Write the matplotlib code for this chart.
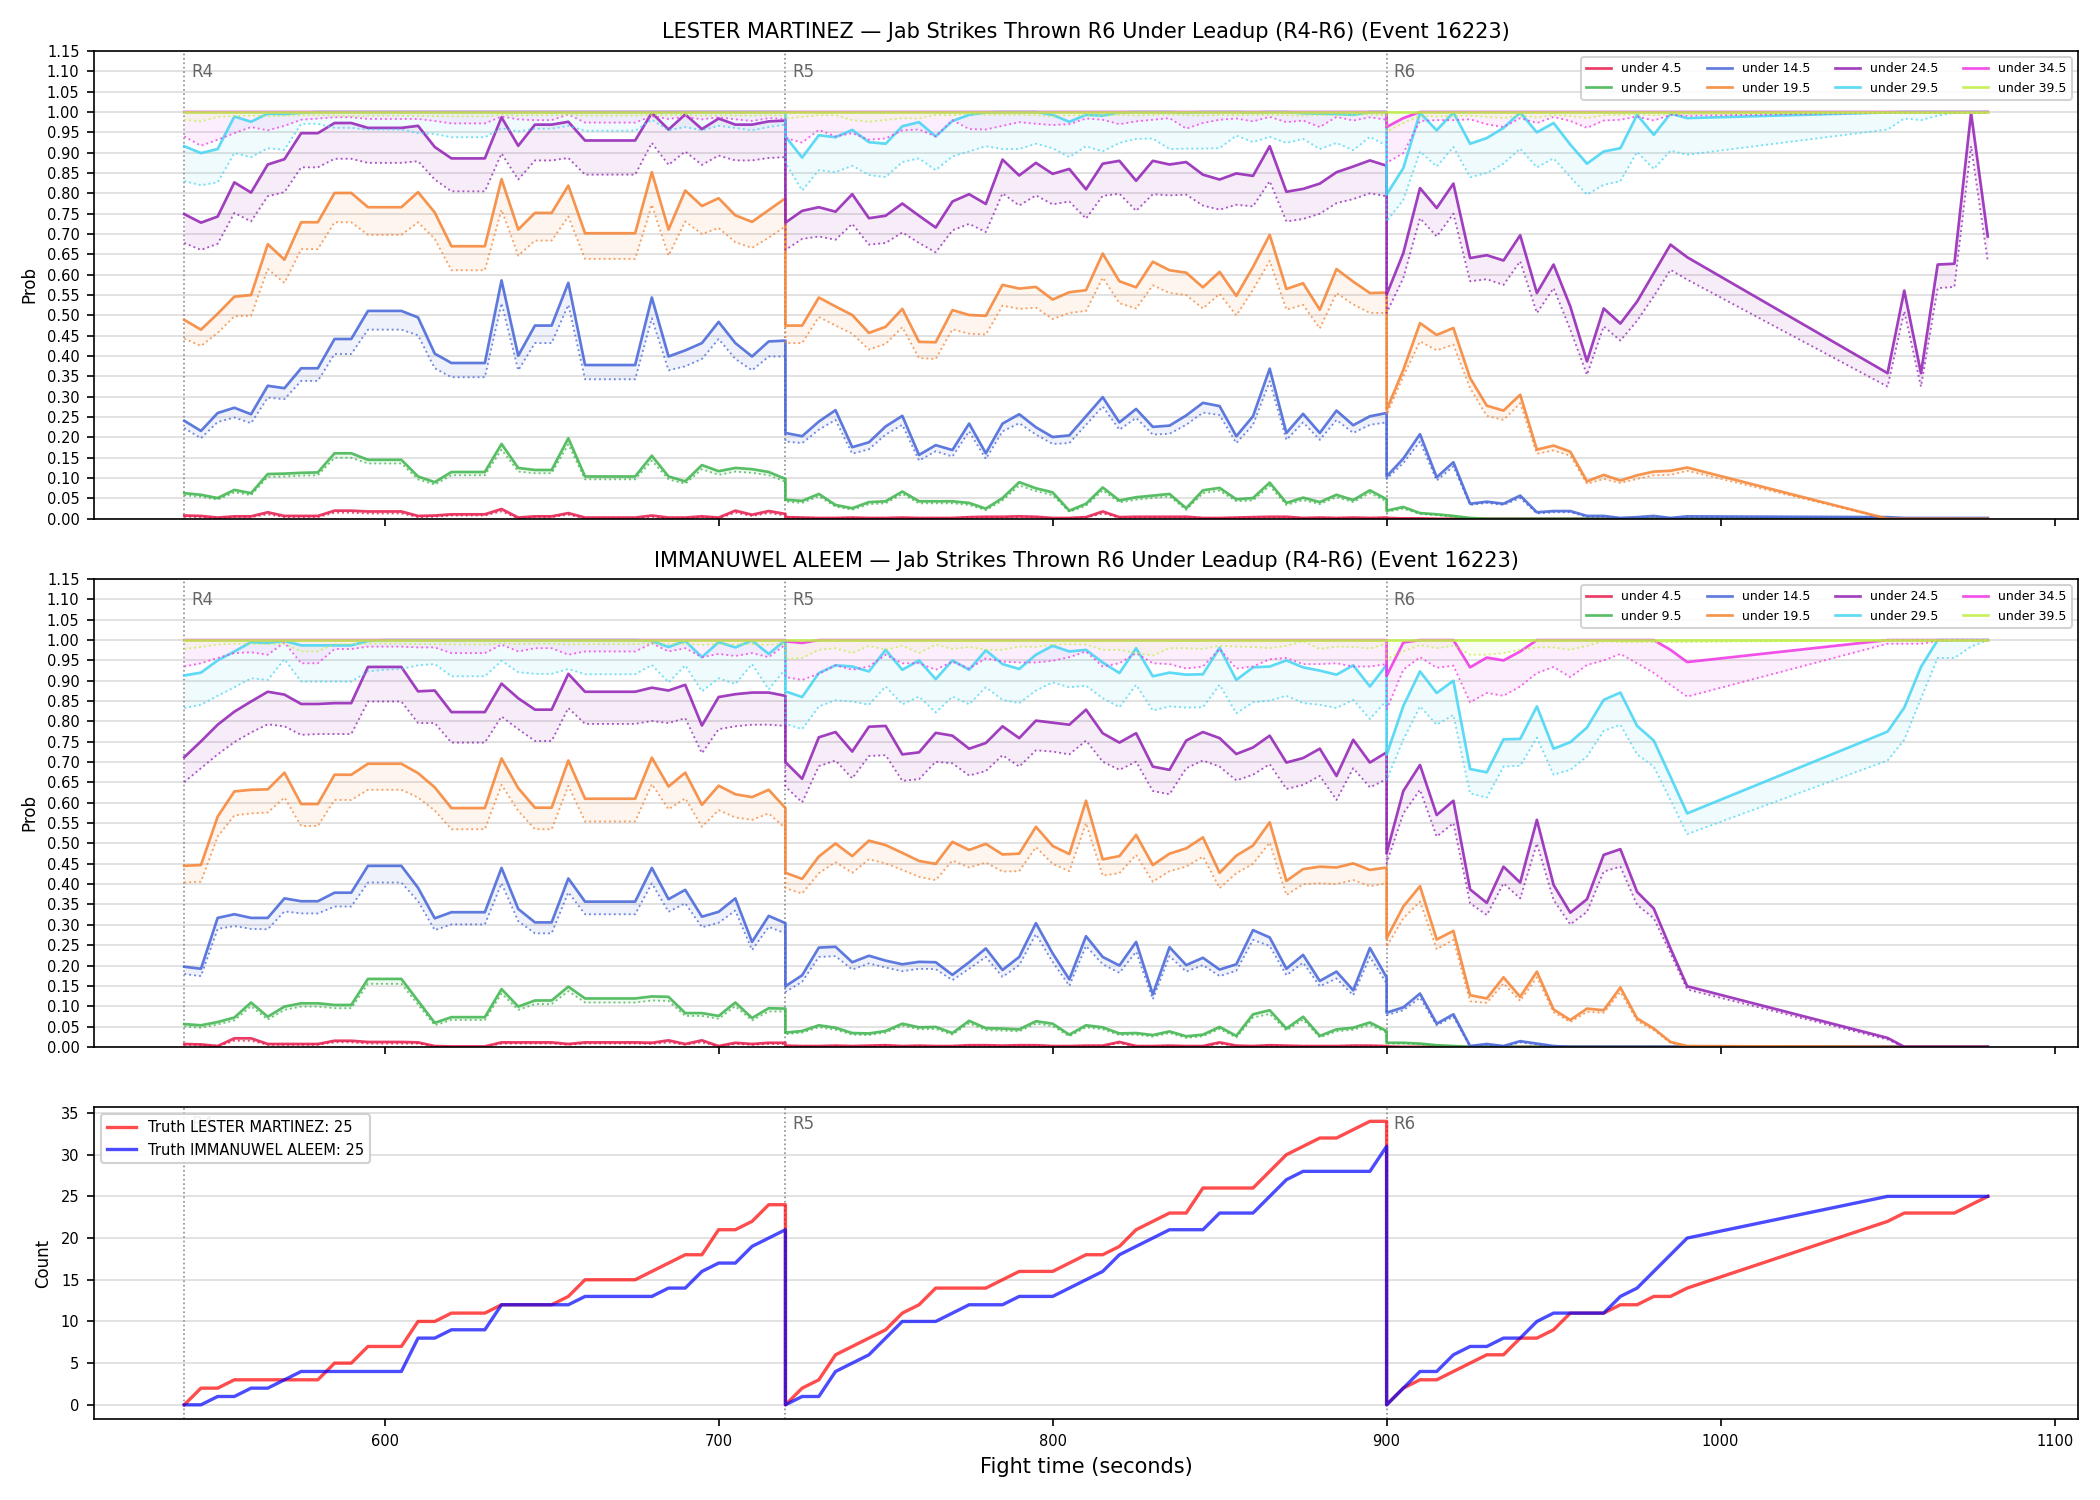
import numpy as np
import matplotlib
matplotlib.use("Agg")
import matplotlib.pyplot as plt
import matplotlib.transforms as mtransforms

# sample times (two samples at 720 and 900 = end of one round / start of next)
times = (list(range(540, 721, 5)) + list(range(720, 901, 5))
         + list(range(900, 991, 5)) + list(range(1050, 1081, 5)))
round_starts = [540, 720, 900]
round_names = ["R4", "R5", "R6"]

lines = ["under 4.5", "under 9.5", "under 14.5", "under 19.5",
         "under 24.5", "under 29.5", "under 34.5", "under 39.5"]
colors = ["#e6194b", "#3cb44b", "#4363d8", "#f58231",
          "#911eb4", "#42d4f4", "#f032e6", "#bfef45"]

# ---------------- LESTER MARTINEZ ----------------
lm_u4 = ([0.008, 0.007, 0.003, 0.006, 0.006, 0.016, 0.007, 0.007, 0.007, 0.020, 0.020, 0.018, 0.018, 0.018, 0.007, 0.008, 0.011, 0.011, 0.011, 0.024,
          0.003, 0.006, 0.006, 0.014, 0.003, 0.003, 0.003, 0.003, 0.008, 0.003, 0.003, 0.006, 0.003, 0.020, 0.010, 0.019, 0.012]
         + [0.004, 0.003, 0.002, 0.002, 0.003, 0.002, 0.002, 0.003, 0.002, 0.002, 0.002, 0.004, 0.005, 0.005, 0.006, 0.005, 0.002, 0.002, 0.004, 0.018,
            0.004, 0.005, 0.005, 0.005, 0.005, 0.002, 0.002, 0.003, 0.004, 0.005, 0.005, 0.002, 0.003, 0.002, 0.003, 0.002, 0.003]
         + [0.002, 0.001, 0.001] + [0.0] * 23)
lm_u4_lo = ([0.005, 0.004, 0.001, 0.004, 0.004, 0.011, 0.004, 0.004, 0.004, 0.015, 0.015, 0.013, 0.013, 0.013, 0.004, 0.005, 0.008, 0.008, 0.008, 0.018,
             0.001, 0.004, 0.004, 0.010, 0.001, 0.001, 0.001, 0.001, 0.005, 0.001, 0.001, 0.004, 0.001, 0.015, 0.007, 0.014, 0.008]
            + [0.003, 0.002, 0.001, 0.001, 0.002, 0.001, 0.001, 0.002, 0.001, 0.001, 0.001, 0.003, 0.003, 0.003, 0.004, 0.003, 0.001, 0.001, 0.003, 0.013,
               0.003, 0.003, 0.003, 0.003, 0.003, 0.001, 0.001, 0.002, 0.003, 0.003, 0.003, 0.001, 0.002, 0.001, 0.002, 0.001, 0.002]
            + [0.001] + [0.0] * 25)
lm_u9 = ([0.063, 0.059, 0.051, 0.071, 0.063, 0.110, 0.111, 0.113, 0.114, 0.161, 0.161, 0.145, 0.145, 0.145, 0.104, 0.090, 0.115, 0.115, 0.115, 0.184,
          0.125, 0.120, 0.120, 0.198, 0.104, 0.104, 0.104, 0.104, 0.155, 0.104, 0.092, 0.132, 0.117, 0.125, 0.122, 0.115, 0.098]
         + [0.047, 0.044, 0.061, 0.034, 0.026, 0.041, 0.043, 0.067, 0.043, 0.043, 0.043, 0.039, 0.025, 0.051, 0.090, 0.075, 0.065, 0.020, 0.037, 0.077,
            0.045, 0.053, 0.057, 0.061, 0.026, 0.070, 0.076, 0.048, 0.051, 0.089, 0.039, 0.052, 0.041, 0.059, 0.046, 0.070, 0.048]
         + [0.020, 0.029, 0.014, 0.011, 0.007, 0.002] + [0.0] * 20)
lm_u9_lo = ([0.058, 0.054, 0.047, 0.065, 0.058, 0.103, 0.104, 0.106, 0.107, 0.150, 0.150, 0.136, 0.136, 0.136, 0.097, 0.084, 0.107, 0.107, 0.107, 0.170,
             0.116, 0.112, 0.112, 0.183, 0.097, 0.097, 0.097, 0.097, 0.143, 0.097, 0.086, 0.122, 0.108, 0.116, 0.113, 0.107, 0.091]
            + [0.042, 0.039, 0.055, 0.030, 0.022, 0.036, 0.038, 0.061, 0.038, 0.038, 0.038, 0.034, 0.021, 0.045, 0.082, 0.068, 0.058, 0.017, 0.032, 0.070,
               0.040, 0.047, 0.051, 0.055, 0.022, 0.063, 0.069, 0.043, 0.045, 0.081, 0.034, 0.046, 0.036, 0.053, 0.041, 0.063, 0.043]
            + [0.017, 0.025, 0.012, 0.009, 0.005, 0.001] + [0.0] * 20)
lm_u14 = ([0.241, 0.216, 0.260, 0.273, 0.257, 0.327, 0.321, 0.370, 0.370, 0.442, 0.442, 0.511, 0.511, 0.511, 0.495, 0.406, 0.383, 0.383, 0.383, 0.586,
           0.401, 0.475, 0.475, 0.580, 0.378, 0.378, 0.378, 0.378, 0.544, 0.399, 0.414, 0.432, 0.484, 0.432, 0.399, 0.436, 0.438]
          + [0.211, 0.203, 0.239, 0.267, 0.176, 0.188, 0.227, 0.253, 0.157, 0.181, 0.169, 0.234, 0.161, 0.234, 0.257, 0.225, 0.201, 0.205, 0.252, 0.299,
             0.237, 0.270, 0.226, 0.229, 0.254, 0.285, 0.277, 0.203, 0.252, 0.369, 0.211, 0.258, 0.211, 0.266, 0.230, 0.252, 0.260]
          + [0.104, 0.148, 0.208, 0.102, 0.139, 0.037, 0.042, 0.037, 0.057, 0.016, 0.019, 0.019, 0.007, 0.007, 0.002, 0.004, 0.007, 0.002, 0.006,
             0.004, 0.002, 0.002, 0.002, 0.002, 0.002, 0.002])
lm_u14_lo = ([0.223, 0.198, 0.238, 0.249, 0.235, 0.298, 0.294, 0.339, 0.339, 0.405, 0.405, 0.465, 0.465, 0.465, 0.451, 0.370, 0.348, 0.348, 0.348, 0.530,
              0.365, 0.432, 0.432, 0.526, 0.343, 0.343, 0.343, 0.343, 0.493, 0.365, 0.375, 0.393, 0.442, 0.393, 0.365, 0.399, 0.399]
             + [0.190, 0.186, 0.219, 0.243, 0.160, 0.171, 0.207, 0.231, 0.143, 0.166, 0.153, 0.215, 0.147, 0.215, 0.235, 0.207, 0.184, 0.186, 0.231, 0.276,
                0.219, 0.248, 0.207, 0.209, 0.231, 0.261, 0.255, 0.186, 0.231, 0.338, 0.194, 0.237, 0.194, 0.243, 0.211, 0.231, 0.237]
             + [0.098, 0.137, 0.190, 0.094, 0.129, 0.034, 0.039, 0.034, 0.051, 0.013, 0.016, 0.016, 0.005, 0.005, 0.001, 0.003, 0.005, 0.001, 0.004,
                0.003, 0.001, 0.001, 0.001, 0.001, 0.001, 0.001])
lm_u19 = ([0.489, 0.465, 0.504, 0.546, 0.550, 0.675, 0.637, 0.729, 0.729, 0.801, 0.801, 0.766, 0.766, 0.766, 0.803, 0.753, 0.670, 0.670, 0.670, 0.835,
           0.711, 0.752, 0.752, 0.819, 0.702, 0.702, 0.702, 0.702, 0.852, 0.711, 0.807, 0.769, 0.788, 0.746, 0.730, 0.759, 0.788]
          + [0.475, 0.475, 0.544, 0.522, 0.501, 0.457, 0.472, 0.516, 0.435, 0.434, 0.513, 0.501, 0.499, 0.575, 0.566, 0.570, 0.539, 0.557, 0.562, 0.652,
             0.584, 0.569, 0.632, 0.611, 0.605, 0.569, 0.607, 0.548, 0.619, 0.698, 0.565, 0.579, 0.514, 0.614, 0.583, 0.555, 0.556]
          + [0.268, 0.366, 0.481, 0.452, 0.469, 0.346, 0.278, 0.266, 0.305, 0.170, 0.180, 0.165, 0.092, 0.108, 0.094, 0.107, 0.116, 0.118, 0.126]
          + [0.0] * 7)
lm_u19_lo = ([0.443, 0.425, 0.457, 0.498, 0.499, 0.614, 0.580, 0.663, 0.663, 0.729, 0.729, 0.698, 0.698, 0.698, 0.729, 0.688, 0.611, 0.611, 0.611, 0.760,
              0.647, 0.684, 0.684, 0.743, 0.639, 0.639, 0.639, 0.639, 0.772, 0.647, 0.731, 0.700, 0.715, 0.680, 0.666, 0.691, 0.719]
             + [0.432, 0.432, 0.496, 0.475, 0.455, 0.416, 0.430, 0.471, 0.395, 0.393, 0.466, 0.455, 0.453, 0.524, 0.516, 0.519, 0.491, 0.506, 0.511, 0.593,
                0.530, 0.517, 0.574, 0.555, 0.550, 0.517, 0.553, 0.500, 0.563, 0.634, 0.514, 0.526, 0.468, 0.555, 0.527, 0.506, 0.506]
             + [0.256, 0.350, 0.436, 0.414, 0.428, 0.321, 0.253, 0.243, 0.284, 0.160, 0.168, 0.155, 0.086, 0.098, 0.088, 0.098, 0.107, 0.108, 0.118]
             + [0.0] * 7)
lm_u24 = ([0.749, 0.728, 0.743, 0.827, 0.802, 0.871, 0.884, 0.948, 0.948, 0.973, 0.973, 0.961, 0.961, 0.961, 0.966, 0.914, 0.886, 0.886, 0.886, 0.987,
           0.917, 0.969, 0.969, 0.976, 0.930, 0.930, 0.930, 0.930, 0.998, 0.957, 0.994, 0.958, 0.984, 0.969, 0.969, 0.977, 0.979]
          + [0.728, 0.757, 0.766, 0.755, 0.798, 0.739, 0.745, 0.775, 0.745, 0.716, 0.780, 0.798, 0.774, 0.883, 0.844, 0.875, 0.848, 0.860, 0.810, 0.873,
             0.880, 0.831, 0.880, 0.871, 0.877, 0.846, 0.834, 0.849, 0.843, 0.916, 0.804, 0.811, 0.824, 0.852, 0.866, 0.881, 0.868]
          + [0.551, 0.653, 0.813, 0.764, 0.824, 0.641, 0.648, 0.635, 0.697, 0.555, 0.625, 0.522, 0.387, 0.517, 0.480, 0.534, 0.604, 0.674, 0.643,
             0.358, 0.561, 0.358, 0.625, 0.627, 0.998, 0.694])
lm_u24_lo = ([0.678, 0.661, 0.676, 0.752, 0.731, 0.793, 0.803, 0.864, 0.864, 0.885, 0.885, 0.875, 0.875, 0.875, 0.879, 0.834, 0.805, 0.805, 0.805, 0.898,
              0.834, 0.881, 0.881, 0.887, 0.846, 0.846, 0.846, 0.846, 0.924, 0.870, 0.903, 0.870, 0.893, 0.881, 0.881, 0.887, 0.889]
             + [0.661, 0.688, 0.694, 0.686, 0.725, 0.674, 0.678, 0.704, 0.678, 0.655, 0.709, 0.725, 0.705, 0.800, 0.770, 0.795, 0.773, 0.780, 0.738, 0.794,
                0.799, 0.757, 0.798, 0.795, 0.797, 0.770, 0.760, 0.772, 0.768, 0.830, 0.731, 0.737, 0.750, 0.776, 0.786, 0.800, 0.793]
             + [0.506, 0.592, 0.739, 0.694, 0.750, 0.584, 0.589, 0.575, 0.633, 0.506, 0.567, 0.465, 0.354, 0.473, 0.438, 0.487, 0.547, 0.612, 0.588,
                0.325, 0.510, 0.325, 0.567, 0.570, 0.916, 0.633])
lm_u29 = ([0.916, 0.899, 0.909, 0.989, 0.976, 0.996, 0.995, 0.998] + [1.0] * 29
          + [0.940, 0.888, 0.943, 0.938, 0.956, 0.926, 0.922, 0.965, 0.975, 0.940, 0.978, 0.993, 0.999, 1.0, 1.0, 1.0, 0.993, 0.976, 0.993, 0.991,
             0.999, 1.0, 1.0, 1.0, 0.998, 1.0, 1.0, 1.0, 0.999, 1.0, 1.0, 0.997, 0.996, 0.995, 0.993, 1.0, 1.0]
          + [0.797, 0.862, 0.998, 0.955, 0.999, 0.922, 0.936, 0.961, 0.999, 0.950, 0.973, 0.920, 0.873, 0.903, 0.911, 0.993, 0.944, 0.996, 0.985,
             0.999, 1.0, 1.0, 1.0, 1.0, 1.0, 1.0])
lm_u29_lo = ([0.830, 0.820, 0.827, 0.899, 0.889, 0.911, 0.907, 0.971, 0.971, 0.961, 0.961, 0.957, 0.957, 0.957, 0.948, 0.946, 0.938, 0.938, 0.938, 0.960,
              0.952, 0.959, 0.959, 0.966, 0.954, 0.954, 0.954, 0.954, 0.981, 0.955, 0.963, 0.955, 0.966, 0.961, 0.955, 0.963, 0.969]
             + [0.875, 0.807, 0.857, 0.852, 0.868, 0.845, 0.840, 0.877, 0.886, 0.857, 0.891, 0.903, 0.916, 0.909, 0.909, 0.922, 0.911, 0.889, 0.916, 0.903,
                0.924, 0.934, 0.935, 0.909, 0.910, 0.910, 0.911, 0.942, 0.926, 0.939, 0.924, 0.934, 0.909, 0.924, 0.906, 0.939, 0.917]
             + [0.731, 0.784, 0.903, 0.866, 0.914, 0.840, 0.850, 0.873, 0.910, 0.864, 0.886, 0.840, 0.797, 0.821, 0.830, 0.902, 0.860, 0.905, 0.895,
                0.957, 0.984, 0.980, 0.991, 0.998, 1.0, 1.0])
lm_u34 = [1.0] * 74 + [0.963, 0.985] + [1.0] * 24
lm_u34_lo = ([0.940, 0.917, 0.932, 0.948, 0.963, 0.955, 0.966, 0.981, 0.984, 0.987, 0.987, 0.983, 0.983, 0.983, 0.983, 0.978, 0.972, 0.972, 0.972, 0.989,
              0.982, 0.980, 0.980, 0.994, 0.974, 0.974, 0.974, 0.974, 0.990, 0.983, 0.988, 0.982, 0.987, 0.982, 0.978, 0.985, 0.983]
             + [0.936, 0.925, 0.956, 0.940, 0.948, 0.932, 0.935, 0.955, 0.957, 0.940, 0.980, 0.958, 0.957, 0.966, 0.975, 0.971, 0.968, 0.970, 0.984, 0.981,
                0.970, 0.977, 0.981, 0.985, 0.959, 0.973, 0.981, 0.984, 0.977, 0.988, 0.975, 0.979, 0.963, 0.988, 0.979, 0.987, 0.981]
             + [0.875, 0.899, 0.978, 0.980, 0.980, 0.982, 0.970, 0.963, 0.985, 0.973, 0.988, 0.978, 0.961, 0.979, 0.981, 0.989, 0.979, 0.993, 0.991,
                0.998, 0.998, 0.998, 0.998, 0.998, 0.998, 0.998])
lm_u39 = [1.0] * 100
lm_u39_lo = ([0.981, 0.977, 0.988, 0.990, 0.991, 0.990, 0.991, 0.992, 0.992, 0.991, 0.990, 0.991, 0.991, 0.991, 0.990, 0.990, 0.989, 0.989, 0.989, 0.993,
              0.991, 0.992, 0.992, 0.993, 0.991, 0.991, 0.991, 0.991, 0.993, 0.992, 0.993, 0.991, 0.992, 0.991, 0.991, 0.992, 0.991]
             + [0.984, 0.988, 0.992, 0.992, 0.980, 0.976, 0.980, 0.985, 0.984, 0.993, 0.992, 0.996, 0.993, 0.993, 0.993, 0.992, 0.989, 0.992, 0.992, 0.991,
                0.993, 0.991, 0.993, 0.994, 0.992, 0.991, 0.993, 0.992, 0.993, 0.993, 0.992, 0.991, 0.993, 0.992, 0.993, 0.994, 0.992]
             + [0.952, 0.973, 0.990, 0.989, 0.990, 0.991, 0.988, 0.985, 0.992, 0.986, 0.993, 0.990, 0.985, 0.992, 0.993, 0.994, 0.992, 0.995, 0.995,
                0.998, 0.998, 0.998, 0.998, 0.998, 0.998, 0.998])

# ---------------- IMMANUWEL ALEEM ----------------
ia_u4 = ([0.007, 0.006, 0.002, 0.021, 0.021, 0.007, 0.007, 0.007, 0.007, 0.015, 0.015, 0.012, 0.012, 0.012, 0.011, 0.002, 0.001, 0.001, 0.001, 0.011,
          0.011, 0.011, 0.011, 0.007, 0.011, 0.011, 0.011, 0.011, 0.010, 0.016, 0.007, 0.016, 0.002, 0.010, 0.007, 0.010, 0.010]
         + [0.003, 0.002, 0.002, 0.003, 0.002, 0.003, 0.004, 0.002, 0.003, 0.002, 0.002, 0.004, 0.004, 0.003, 0.004, 0.004, 0.002, 0.002, 0.003, 0.003,
            0.012, 0.002, 0.002, 0.003, 0.002, 0.002, 0.011, 0.003, 0.002, 0.004, 0.003, 0.002, 0.002, 0.002, 0.003, 0.003, 0.002]
         + [0.001] + [0.0] * 25)
ia_u4_lo = ([0.005, 0.004, 0.001, 0.015, 0.015, 0.005, 0.005, 0.005, 0.005, 0.011, 0.011, 0.008, 0.008, 0.008, 0.008, 0.001, 0.0, 0.0, 0.0, 0.008,
             0.008, 0.008, 0.008, 0.005, 0.008, 0.008, 0.008, 0.008, 0.007, 0.011, 0.005, 0.011, 0.001, 0.007, 0.005, 0.007, 0.007]
            + [0.002, 0.001, 0.001, 0.002, 0.001, 0.002, 0.003, 0.001, 0.002, 0.001, 0.001, 0.003, 0.003, 0.002, 0.003, 0.003, 0.001, 0.001, 0.002, 0.002,
               0.009, 0.001, 0.001, 0.002, 0.001, 0.001, 0.008, 0.002, 0.001, 0.003, 0.002, 0.001, 0.001, 0.001, 0.002, 0.002, 0.001]
            + [0.0] * 26)
ia_u9 = ([0.056, 0.053, 0.061, 0.072, 0.109, 0.074, 0.099, 0.107, 0.107, 0.103, 0.103, 0.167, 0.167, 0.167, 0.113, 0.059, 0.073, 0.073, 0.073, 0.142,
          0.099, 0.114, 0.114, 0.148, 0.119, 0.119, 0.119, 0.119, 0.124, 0.123, 0.083, 0.083, 0.076, 0.109, 0.071, 0.095, 0.094]
         + [0.035, 0.039, 0.053, 0.047, 0.034, 0.033, 0.039, 0.057, 0.048, 0.049, 0.034, 0.064, 0.046, 0.045, 0.043, 0.063, 0.057, 0.030, 0.053, 0.048,
            0.033, 0.034, 0.029, 0.038, 0.026, 0.030, 0.049, 0.027, 0.080, 0.090, 0.045, 0.074, 0.027, 0.043, 0.047, 0.060, 0.039]
         + [0.010, 0.010, 0.008, 0.004, 0.002] + [0.0] * 21)
ia_u9_lo = ([0.050, 0.047, 0.055, 0.065, 0.100, 0.067, 0.091, 0.099, 0.099, 0.095, 0.095, 0.155, 0.155, 0.155, 0.104, 0.053, 0.066, 0.066, 0.066, 0.131,
             0.091, 0.105, 0.105, 0.137, 0.109, 0.109, 0.109, 0.109, 0.114, 0.113, 0.076, 0.076, 0.069, 0.100, 0.065, 0.087, 0.087]
            + [0.031, 0.035, 0.048, 0.042, 0.030, 0.029, 0.035, 0.052, 0.043, 0.044, 0.030, 0.058, 0.041, 0.040, 0.038, 0.057, 0.051, 0.026, 0.048, 0.043,
               0.029, 0.030, 0.025, 0.034, 0.022, 0.026, 0.044, 0.023, 0.072, 0.081, 0.040, 0.067, 0.023, 0.038, 0.042, 0.054, 0.035]
            + [0.008, 0.008, 0.006, 0.003, 0.001] + [0.0] * 21)
ia_u14 = ([0.197, 0.192, 0.317, 0.326, 0.317, 0.317, 0.365, 0.358, 0.358, 0.379, 0.379, 0.445, 0.445, 0.445, 0.391, 0.316, 0.331, 0.331, 0.331, 0.440,
           0.339, 0.306, 0.306, 0.414, 0.357, 0.357, 0.357, 0.357, 0.440, 0.363, 0.386, 0.320, 0.332, 0.365, 0.258, 0.322, 0.304]
          + [0.149, 0.176, 0.244, 0.246, 0.208, 0.224, 0.212, 0.203, 0.209, 0.208, 0.177, 0.208, 0.242, 0.189, 0.221, 0.304, 0.230, 0.166, 0.272, 0.221,
             0.200, 0.258, 0.129, 0.245, 0.201, 0.219, 0.190, 0.203, 0.287, 0.269, 0.192, 0.226, 0.162, 0.185, 0.139, 0.243, 0.171]
          + [0.084, 0.097, 0.131, 0.057, 0.080, 0.002, 0.007, 0.002, 0.014, 0.008, 0.002] + [0.0] * 15)
ia_u14_lo = ([0.179, 0.174, 0.290, 0.297, 0.290, 0.289, 0.333, 0.328, 0.328, 0.345, 0.345, 0.404, 0.404, 0.404, 0.358, 0.287, 0.301, 0.301, 0.301, 0.402,
              0.309, 0.279, 0.279, 0.380, 0.326, 0.326, 0.326, 0.326, 0.402, 0.332, 0.353, 0.294, 0.305, 0.335, 0.238, 0.295, 0.279]
             + [0.135, 0.160, 0.221, 0.223, 0.190, 0.205, 0.195, 0.186, 0.192, 0.191, 0.164, 0.192, 0.221, 0.172, 0.201, 0.277, 0.209, 0.150, 0.248, 0.203,
                0.182, 0.234, 0.117, 0.223, 0.185, 0.201, 0.174, 0.187, 0.263, 0.248, 0.176, 0.207, 0.149, 0.168, 0.127, 0.221, 0.156]
             + [0.078, 0.090, 0.121, 0.053, 0.074, 0.001, 0.005, 0.001, 0.011, 0.006, 0.001] + [0.0] * 15)
ia_u19 = ([0.445, 0.447, 0.566, 0.628, 0.632, 0.633, 0.674, 0.597, 0.597, 0.669, 0.669, 0.696, 0.696, 0.696, 0.673, 0.638, 0.587, 0.587, 0.587, 0.709,
           0.636, 0.588, 0.588, 0.704, 0.610, 0.610, 0.610, 0.610, 0.711, 0.640, 0.674, 0.595, 0.642, 0.621, 0.614, 0.632, 0.587]
          + [0.428, 0.413, 0.468, 0.500, 0.469, 0.507, 0.496, 0.477, 0.457, 0.450, 0.504, 0.484, 0.499, 0.473, 0.475, 0.541, 0.494, 0.474, 0.605, 0.461,
             0.469, 0.521, 0.447, 0.475, 0.488, 0.515, 0.428, 0.470, 0.495, 0.552, 0.408, 0.437, 0.443, 0.441, 0.451, 0.435, 0.441]
          + [0.267, 0.345, 0.395, 0.264, 0.285, 0.127, 0.119, 0.171, 0.123, 0.185, 0.092, 0.066, 0.094, 0.090, 0.146, 0.070, 0.045, 0.012, 0.002]
          + [0.0] * 7)
ia_u19_lo = ([0.404, 0.406, 0.517, 0.569, 0.574, 0.576, 0.613, 0.543, 0.543, 0.607, 0.607, 0.632, 0.632, 0.632, 0.613, 0.581, 0.535, 0.535, 0.535, 0.644,
              0.580, 0.535, 0.535, 0.642, 0.554, 0.554, 0.554, 0.554, 0.646, 0.584, 0.611, 0.541, 0.582, 0.564, 0.558, 0.574, 0.537]
             + [0.390, 0.377, 0.427, 0.454, 0.428, 0.461, 0.451, 0.435, 0.418, 0.410, 0.458, 0.441, 0.453, 0.431, 0.432, 0.491, 0.450, 0.432, 0.550, 0.421,
                0.427, 0.472, 0.406, 0.432, 0.443, 0.468, 0.390, 0.427, 0.450, 0.502, 0.373, 0.400, 0.402, 0.400, 0.410, 0.395, 0.402]
             + [0.246, 0.316, 0.357, 0.240, 0.263, 0.112, 0.108, 0.156, 0.113, 0.171, 0.085, 0.061, 0.086, 0.084, 0.135, 0.064, 0.041, 0.010, 0.001]
             + [0.0] * 7)
ia_u24 = ([0.712, 0.751, 0.792, 0.824, 0.849, 0.873, 0.866, 0.843, 0.843, 0.845, 0.845, 0.934, 0.934, 0.934, 0.874, 0.876, 0.823, 0.823, 0.823, 0.893,
           0.857, 0.829, 0.829, 0.917, 0.873, 0.873, 0.873, 0.873, 0.883, 0.876, 0.890, 0.790, 0.860, 0.867, 0.871, 0.871, 0.863]
          + [0.700, 0.659, 0.761, 0.774, 0.726, 0.787, 0.789, 0.719, 0.724, 0.772, 0.765, 0.733, 0.747, 0.788, 0.759, 0.802, 0.797, 0.792, 0.829, 0.771,
             0.748, 0.771, 0.689, 0.681, 0.753, 0.774, 0.759, 0.720, 0.736, 0.765, 0.699, 0.710, 0.733, 0.666, 0.755, 0.699, 0.724]
          + [0.476, 0.629, 0.693, 0.570, 0.605, 0.387, 0.354, 0.443, 0.404, 0.558, 0.398, 0.330, 0.363, 0.472, 0.486, 0.381, 0.340, 0.242, 0.149,
             0.022] + [0.0] * 6)
ia_u24_lo = ([0.651, 0.685, 0.719, 0.749, 0.773, 0.793, 0.788, 0.767, 0.769, 0.769, 0.769, 0.849, 0.849, 0.849, 0.796, 0.796, 0.748, 0.748, 0.748, 0.812,
              0.781, 0.752, 0.752, 0.833, 0.794, 0.794, 0.794, 0.794, 0.801, 0.796, 0.808, 0.722, 0.781, 0.788, 0.792, 0.792, 0.789]
             + [0.640, 0.601, 0.690, 0.704, 0.660, 0.715, 0.717, 0.654, 0.658, 0.701, 0.697, 0.667, 0.678, 0.717, 0.689, 0.729, 0.726, 0.719, 0.753, 0.701,
                0.681, 0.701, 0.629, 0.621, 0.685, 0.704, 0.689, 0.655, 0.669, 0.695, 0.634, 0.644, 0.666, 0.607, 0.685, 0.638, 0.658]
             + [0.451, 0.574, 0.632, 0.517, 0.550, 0.353, 0.324, 0.402, 0.365, 0.500, 0.361, 0.301, 0.332, 0.431, 0.443, 0.349, 0.316, 0.230, 0.141,
                0.018] + [0.0] * 6)
ia_u29 = ([0.913, 0.920, 0.950, 0.972, 0.995, 0.993, 0.998, 0.987, 0.987, 0.987, 0.987, 0.998] + [1.0] * 16
          + [0.998, 0.983, 0.998, 0.958, 0.995, 0.982, 0.999, 0.966, 1.0]
          + [0.874, 0.860, 0.919, 0.938, 0.935, 0.923, 0.976, 0.927, 0.950, 0.904, 0.950, 0.927, 0.975, 0.941, 0.929, 0.964, 0.986, 0.972, 0.976, 0.945,
             0.919, 0.980, 0.911, 0.920, 0.915, 0.916, 0.981, 0.902, 0.933, 0.935, 0.950, 0.933, 0.925, 0.915, 0.938, 0.886, 0.939]
          + [0.718, 0.838, 0.923, 0.870, 0.900, 0.683, 0.675, 0.756, 0.757, 0.837, 0.733, 0.749, 0.785, 0.853, 0.871, 0.789, 0.753, 0.664, 0.574,
             0.775, 0.834, 0.934, 1.0, 1.0, 1.0, 1.0])
ia_u29_lo = ([0.833, 0.841, 0.863, 0.884, 0.906, 0.902, 0.953, 0.898, 0.898, 0.898, 0.898, 0.923, 0.927, 0.929, 0.938, 0.941, 0.911, 0.911, 0.911, 0.949,
              0.921, 0.917, 0.917, 0.929, 0.916, 0.916, 0.916, 0.916, 0.939, 0.896, 0.938, 0.874, 0.906, 0.892, 0.941, 0.879, 0.929]
             + [0.794, 0.781, 0.837, 0.852, 0.849, 0.841, 0.886, 0.842, 0.861, 0.822, 0.861, 0.842, 0.884, 0.853, 0.845, 0.876, 0.896, 0.884, 0.888, 0.857,
                0.835, 0.890, 0.827, 0.837, 0.834, 0.835, 0.890, 0.820, 0.847, 0.851, 0.863, 0.845, 0.841, 0.833, 0.853, 0.806, 0.852]
             + [0.656, 0.755, 0.837, 0.792, 0.816, 0.623, 0.613, 0.689, 0.691, 0.760, 0.669, 0.681, 0.714, 0.777, 0.792, 0.719, 0.689, 0.607, 0.523,
                0.704, 0.755, 0.857, 0.956, 0.956, 0.984, 1.0])
ia_u34 = ([1.0] * 37 + [0.997, 0.993] + [1.0] * 35
          + [0.912, 0.994, 1.0, 1.0, 1.0, 0.933, 0.957, 0.950, 0.972, 1.0, 1.0, 1.0, 1.0, 1.0, 1.0, 1.0, 1.0, 0.976, 0.946,
             1.0, 1.0, 1.0, 1.0, 1.0, 1.0, 1.0])
ia_u34_lo = ([0.935, 0.943, 0.956, 0.968, 0.970, 0.964, 0.994, 0.943, 0.943, 0.978, 0.978, 0.984, 0.984, 0.984, 0.982, 0.982, 0.968, 0.968, 0.968, 0.989,
              0.972, 0.980, 0.980, 0.964, 0.972, 0.972, 0.972, 0.972, 0.992, 0.972, 0.980, 0.958, 0.966, 0.961, 0.968, 0.958, 0.989]
             + [0.909, 0.902, 0.917, 0.938, 0.927, 0.935, 0.964, 0.943, 0.943, 0.927, 0.947, 0.930, 0.955, 0.947, 0.945, 0.945, 0.949, 0.958, 0.972, 0.935,
                0.943, 0.968, 0.943, 0.941, 0.930, 0.935, 0.978, 0.930, 0.935, 0.953, 0.956, 0.941, 0.941, 0.943, 0.935, 0.935, 0.941]
             + [0.829, 0.927, 0.958, 0.932, 0.937, 0.847, 0.870, 0.863, 0.886, 0.919, 0.934, 0.909, 0.939, 0.950, 0.966, 0.943, 0.919, 0.890, 0.861,
                0.991, 0.991, 0.991, 0.998, 1.0, 1.0, 1.0])
ia_u39 = [1.0] * 100
ia_u39_lo = ([0.978, 0.983, 0.989, 0.991, 0.990, 0.990, 0.991, 0.972, 0.972, 0.990, 0.990, 0.991, 0.991, 0.991, 0.990, 0.990, 0.989, 0.989, 0.989, 0.992,
              0.990, 0.991, 0.991, 0.989, 0.990, 0.990, 0.990, 0.990, 0.992, 0.990, 0.991, 0.988, 0.990, 0.989, 0.990, 0.988, 0.991]
             + [0.954, 0.956, 0.976, 0.980, 0.968, 0.986, 0.976, 0.986, 0.968, 0.989, 0.978, 0.983, 0.976, 0.976, 0.984, 0.983, 0.989, 0.990, 0.989, 0.976,
                0.976, 0.968, 0.962, 0.980, 0.980, 0.978, 0.986, 0.984, 0.983, 0.980, 0.986, 0.997, 0.978, 0.984, 0.983, 0.979, 0.991]
             + [0.953, 0.972, 0.988, 0.980, 0.986, 0.964, 0.964, 0.968, 0.976, 0.982, 0.982, 0.976, 0.986, 0.997, 0.995, 0.995, 0.995, 0.995, 0.995,
                1.0, 1.0, 1.0, 1.0, 1.0, 1.0, 1.0])

# ---------------- truth counts ----------------
truth_lm = ([0, 2, 2, 3, 3, 3, 3, 3, 3, 5, 5, 7, 7, 7, 10, 10, 11, 11, 11, 12, 12, 12, 12, 13, 15, 15, 15, 15, 16, 17, 18, 18, 21, 21, 22, 24, 24]
            + [0, 2, 3, 6, 7, 8, 9, 11, 12, 14, 14, 14, 14, 15, 16, 16, 16, 17, 18, 18, 19, 21, 22, 23, 23, 26, 26, 26, 26, 28, 30, 31, 32, 32, 33, 34, 34]
            + [0, 2, 3, 3, 4, 5, 6, 6, 8, 8, 9, 11, 11, 11, 12, 12, 13, 13, 14, 22, 23, 23, 23, 23, 24, 25])
truth_ia = ([0, 0, 1, 1, 2, 2, 3, 4, 4, 4, 4, 4, 4, 4, 8, 8, 9, 9, 9, 12, 12, 12, 12, 12, 13, 13, 13, 13, 13, 14, 14, 16, 17, 17, 19, 20, 21]
            + [0, 1, 1, 4, 5, 6, 8, 10, 10, 10, 11, 12, 12, 12, 13, 13, 13, 14, 15, 16, 18, 19, 20, 21, 21, 21, 23, 23, 23, 25, 27, 28, 28, 28, 28, 28, 31]
            + [0, 2, 4, 4, 6, 7, 7, 8, 8, 10, 11, 11, 11, 11, 13, 14, 16, 18, 20, 25, 25, 25, 25, 25, 25, 25])

lm_mid = [lm_u4, lm_u9, lm_u14, lm_u19, lm_u24, lm_u29, lm_u34, lm_u39]
lm_low = [lm_u4_lo, lm_u9_lo, lm_u14_lo, lm_u19_lo, lm_u24_lo, lm_u29_lo, lm_u34_lo, lm_u39_lo]
ia_mid = [ia_u4, ia_u9, ia_u14, ia_u19, ia_u24, ia_u29, ia_u34, ia_u39]
ia_low = [ia_u4_lo, ia_u9_lo, ia_u14_lo, ia_u19_lo, ia_u24_lo, ia_u29_lo, ia_u34_lo, ia_u39_lo]

t = np.array(times)


def round_marks(ax):
    trans = mtransforms.blended_transform_factory(ax.transData, ax.transAxes)
    for x, name in zip(round_starts, round_names):
        ax.axvline(x, color="gray", ls=":", lw=0.8, alpha=0.9, zorder=1)
        ax.text(x + 2, 0.975, name, transform=trans, color="#666666",
                fontsize=8, va="top", ha="left")


def draw_prob(ax, title, mids, lows):
    for name, c, mid, lo in zip(lines, colors, mids, lows):
        ax.fill_between(t, lo, mid, color=c, alpha=0.08, lw=0)
        ax.plot(t, lo, color=c, ls=":", lw=0.9, alpha=0.75)
        ax.plot(t, mid, color=c, lw=1.3, alpha=0.85, label=name)
    round_marks(ax)
    ax.set_ylim(0, 1.15)
    ax.set_yticks(np.arange(0, 1.151, 0.05))
    ax.yaxis.set_major_formatter(matplotlib.ticker.FormatStrFormatter("%.2f"))
    ax.tick_params(labelsize=7)
    ax.set_ylabel("Prob", fontsize=8)
    ax.set_title(title, fontsize=10)
    ax.grid(axis="y", color="#dddddd", lw=0.8)
    ax.set_axisbelow(True)
    ax.legend(loc="upper right", ncol=4, fontsize=6, framealpha=0.85)


fig, axes = plt.subplots(3, 1, figsize=(14, 10), dpi=150, sharex=True,
                         gridspec_kw={"height_ratios": [1.5, 1.5, 1]})
fig.subplots_adjust(left=0.0448, right=0.9895, top=0.966, bottom=0.054, hspace=0.145)

draw_prob(axes[0], "LESTER MARTINEZ \u2014 Jab Strikes Thrown R6 Under Leadup (R4-R6) (Event 16223)",
          lm_mid, lm_low)
draw_prob(axes[1], "IMMANUWEL ALEEM \u2014 Jab Strikes Thrown R6 Under Leadup (R4-R6) (Event 16223)",
          ia_mid, ia_low)

ax = axes[2]
ax.plot(t, truth_lm, color="red", lw=1.6, alpha=0.7, label="Truth LESTER MARTINEZ: 25")
ax.plot(t, truth_ia, color="blue", lw=1.6, alpha=0.7, label="Truth IMMANUWEL ALEEM: 25")
round_marks(ax)
ax.set_ylabel("Count", fontsize=8)
ax.set_xlabel("Fight time (seconds)", fontsize=10)
ax.tick_params(labelsize=7)
ax.grid(axis="y", color="#dddddd", lw=0.8)
ax.set_axisbelow(True)
ax.legend(loc="upper left", fontsize=7, framealpha=0.9)

fig.savefig("out.png", dpi=150)
